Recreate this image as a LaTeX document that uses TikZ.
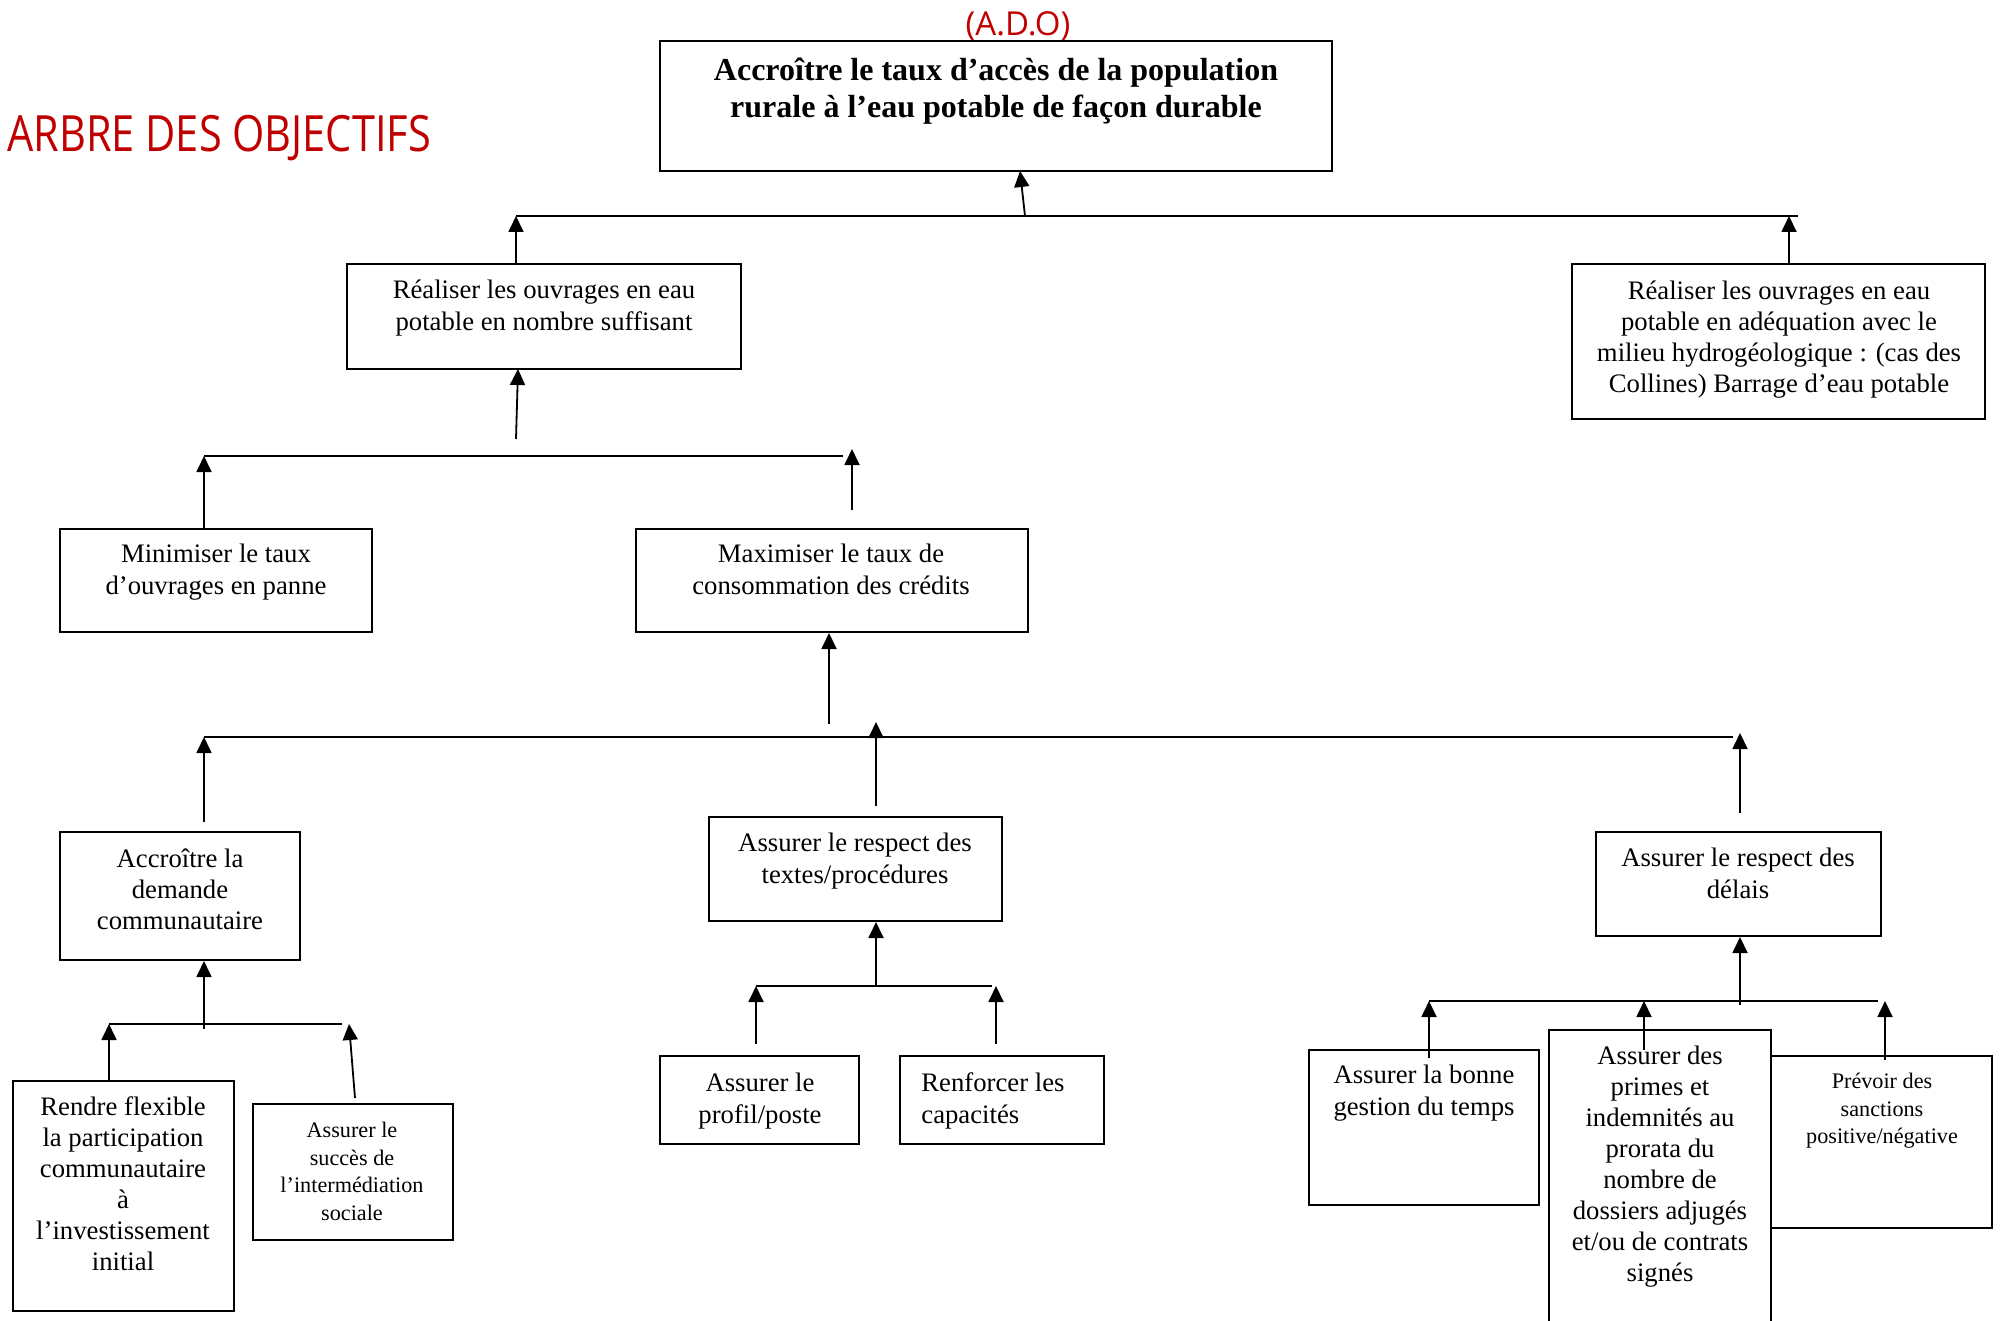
\documentclass[tikz,border=0pt]{standalone}
\usepackage{fontspec}
\usepackage{graphicx}
\setmainfont{Liberation Serif}
\newfontfamily\titlefont{Open Sans}
\usetikzlibrary{arrows.meta,fit}
\definecolor{titlered}{RGB}{192,0,0}
\newcommand\myreg{\fontsize{13.35pt}{16pt}\selectfont}
\newcommand\mybold{\fontsize{16pt}{18.5pt}\selectfont\bfseries}
\newcommand\mysmall{\fontsize{11.1pt}{13.75pt}\selectfont}
\begin{document}
\begin{tikzpicture}[x=0.5pt,y=-0.5pt,
  box/.style={draw,line width=1pt,fill=white,inner sep=0pt},
  lbl/.style={anchor=north,inner sep=0pt,align=center,font=\myreg},
  blbl/.style={anchor=north,inner sep=0pt,align=center,font=\mybold},
  slbl/.style={anchor=north,inner sep=0pt,align=center,font=\mysmall},
  bus/.style={line width=1pt},
  arr/.style={-{Triangle[length=8pt,width=7.5pt]},line width=0.9pt}]
\fill[white] (0,0) rectangle (2002,1321);
\useasboundingbox (0,0) rectangle (2002,1321);

% titles
\node[anchor=base west,inner sep=0pt,text=titlered] (title) at (7,152)
  {\titlefont\fontsize{25pt}{30pt}\selectfont\scalebox{0.83}[1]{ARBRE DES OBJECTIFS}};
\node[anchor=base,inner sep=0pt,text=titlered] (ado) at (1018,36)
  {\titlefont\fontsize{16.5pt}{20pt}\selectfont (A.D.O)};

% boxes
\node[box,fit={(660,41) (1332,171)}] (T) {};
\node[box,fit={(347,264) (741,369)}] (R1) {};
\node[box,fit={(1572,264) (1985,419)}] (R2) {};
\node[box,fit={(60,529) (372,632)}] (M1) {};
\node[box,fit={(636,529) (1028,632)}] (M2) {};
\node[box,fit={(60,832) (300,960)}] (A1) {};
\node[box,fit={(709,817) (1002,921)}] (A2) {};
\node[box,fit={(1596,832) (1881,936)}] (A3) {};
\node[box,fit={(13,1081) (234,1311)}] (B1) {};
\node[box,fit={(253,1104) (453,1240)}] (B2) {};
\node[box,fit={(660,1056) (859,1144)}] (C1) {};
\node[box,fit={(900,1056) (1104,1144)}] (C2) {};
\node[box,fit={(1309,1050) (1539,1205)}] (D1) {};
\node[box,fit={(1771,1056) (1992,1228)}] (D3) {};
\node[box,fit={(1549,1030) (1771,1326)}] (D2) {};

% texts
\node[blbl] (Tt) at (996,54) {\strut Accroître le taux d’accès de la population\\rurale à l’eau potable de façon durable};
\node[lbl] (R1t) at (544,276) {\strut Réaliser les ouvrages en eau\\potable en nombre suffisant};
\node[lbl,font=\fontsize{13.35pt}{15.5pt}\selectfont] (R2t) at (1779,277) {\strut Réaliser les ouvrages en eau\\potable en adéquation avec le\\milieu hydrogéologique : (cas des\\Collines) Barrage d’eau potable};
\node[lbl] (M1t) at (216,540) {\strut Minimiser le taux\\d’ouvrages en panne};
\node[lbl] (M2t) at (831,540) {\strut Maximiser le taux de\\consommation des crédits};
\node[lbl,font=\fontsize{13.35pt}{15.5pt}\selectfont] (A1t) at (180,845) {\strut Accroître la\\demande\\communautaire};
\node[lbl] (A2t) at (855,829) {\strut Assurer le respect des\\textes/procédures};
\node[lbl] (A3t) at (1738,844) {\strut Assurer le respect des\\délais};
\node[lbl,font=\fontsize{13.35pt}{15.5pt}\selectfont] (B1t) at (123,1093) {\strut Rendre flexible\\la participation\\communautaire\\à\\l’investissement\\initial};
\node[slbl] (B2t) at (352,1118) {\strut Assurer le\\succès de\\l’intermédiation\\sociale};
\node[lbl] (C1t) at (760,1069) {\strut Assurer le\\profil/poste};
\node[lbl,anchor=north west,align=left] (C2t) at (921,1069) {\strut Renforcer les\\capacités};
\node[lbl] (D1t) at (1424,1061) {\strut Assurer la bonne\\gestion du temps};
\node[lbl,font=\fontsize{13.35pt}{15.5pt}\selectfont] (D2t) at (1660,1042) {\strut Assurer des\\primes et\\indemnités au\\prorata du\\nombre de\\dossiers adjugés\\et/ou de contrats\\signés};
\node[slbl] (D3t) at (1882,1069) {\strut Prévoir des\\sanctions\\positive/négative};

% level 1
\coordinate (b1l) at (516,216);
\coordinate (b1r) at (1798,216);
\coordinate (b1x) at (1789,216);
\coordinate (t0s) at (1025,216);
\coordinate (t0e) at (1020,171);
\draw[bus] (b1l) -- (b1r);
\draw[arr] (t0s) -- (t0e);
\draw[arr] (b1l |- R1.north) -- (b1l);
\draw[arr] (b1x |- R2.north) -- (b1x);

% level 2
\coordinate (r1s) at (516,439);
\coordinate (r1e) at (518,369);
\coordinate (b2l) at (204,456);
\coordinate (b2r) at (843,456);
\coordinate (m2s) at (852,510);
\coordinate (m2e) at (852,449);
\draw[arr] (r1s) -- (r1e);
\draw[bus] (b2l) -- (b2r);
\draw[arr] (b2l |- M1.north) -- (b2l);
\draw[arr] (m2s) -- (m2e);

% level 3
\coordinate (m2a) at (829,724);
\coordinate (b3l) at (204,737);
\coordinate (b3r) at (1733,737);
\coordinate (a1s) at (204,822);
\coordinate (a2s) at (876,806);
\coordinate (a2e) at (876,722);
\coordinate (a3s) at (1740,813);
\coordinate (a3e) at (1740,733);
\draw[arr] (m2a) -- (m2a |- M2.south);
\draw[bus] (b3l) -- (b3r);
\draw[arr] (a1s) -- (b3l);
\draw[arr] (a2s) -- (a2e);
\draw[arr] (a3s) -- (a3e);

% level 4, left
\coordinate (s1a) at (204,1029);
\coordinate (s1l) at (109,1024);
\coordinate (s1r) at (342,1024);
\coordinate (s1rs) at (355,1098);
\coordinate (s1re) at (349,1024);
\draw[arr] (s1a) -- (s1a |- A1.south);
\draw[bus] (s1l) -- (s1r);
\draw[arr] (s1l |- B1.north) -- (s1l);
\draw[arr] (s1rs) -- (s1re);

% level 4, middle
\coordinate (s2a) at (876,986);
\coordinate (s2l) at (756,986);
\coordinate (s2r) at (992,986);
\coordinate (s2ls) at (756,1044);
\coordinate (s2rs) at (996,1044);
\coordinate (s2re) at (996,986);
\draw[arr] (s2a) -- (s2a |- A2.south);
\draw[bus] (s2l) -- (s2r);
\draw[arr] (s2ls) -- (s2l);
\draw[arr] (s2rs) -- (s2re);

% level 4, right
\coordinate (s3a) at (1740,1005);
\coordinate (s3l) at (1429,1001);
\coordinate (s3r) at (1878,1001);
\coordinate (s3ls) at (1429,1058);
\coordinate (s3ms) at (1644,1050);
\coordinate (s3me) at (1644,1001);
\coordinate (s3rs) at (1885,1060);
\coordinate (s3re) at (1885,1001);
\draw[arr] (s3a) -- (s3a |- A3.south);
\draw[bus] (s3l) -- (s3r);
\draw[arr] (s3ls) -- (s3l);
\draw[arr] (s3ms) -- (s3me);
\draw[arr] (s3rs) -- (s3re);
\end{tikzpicture}
\end{document}
